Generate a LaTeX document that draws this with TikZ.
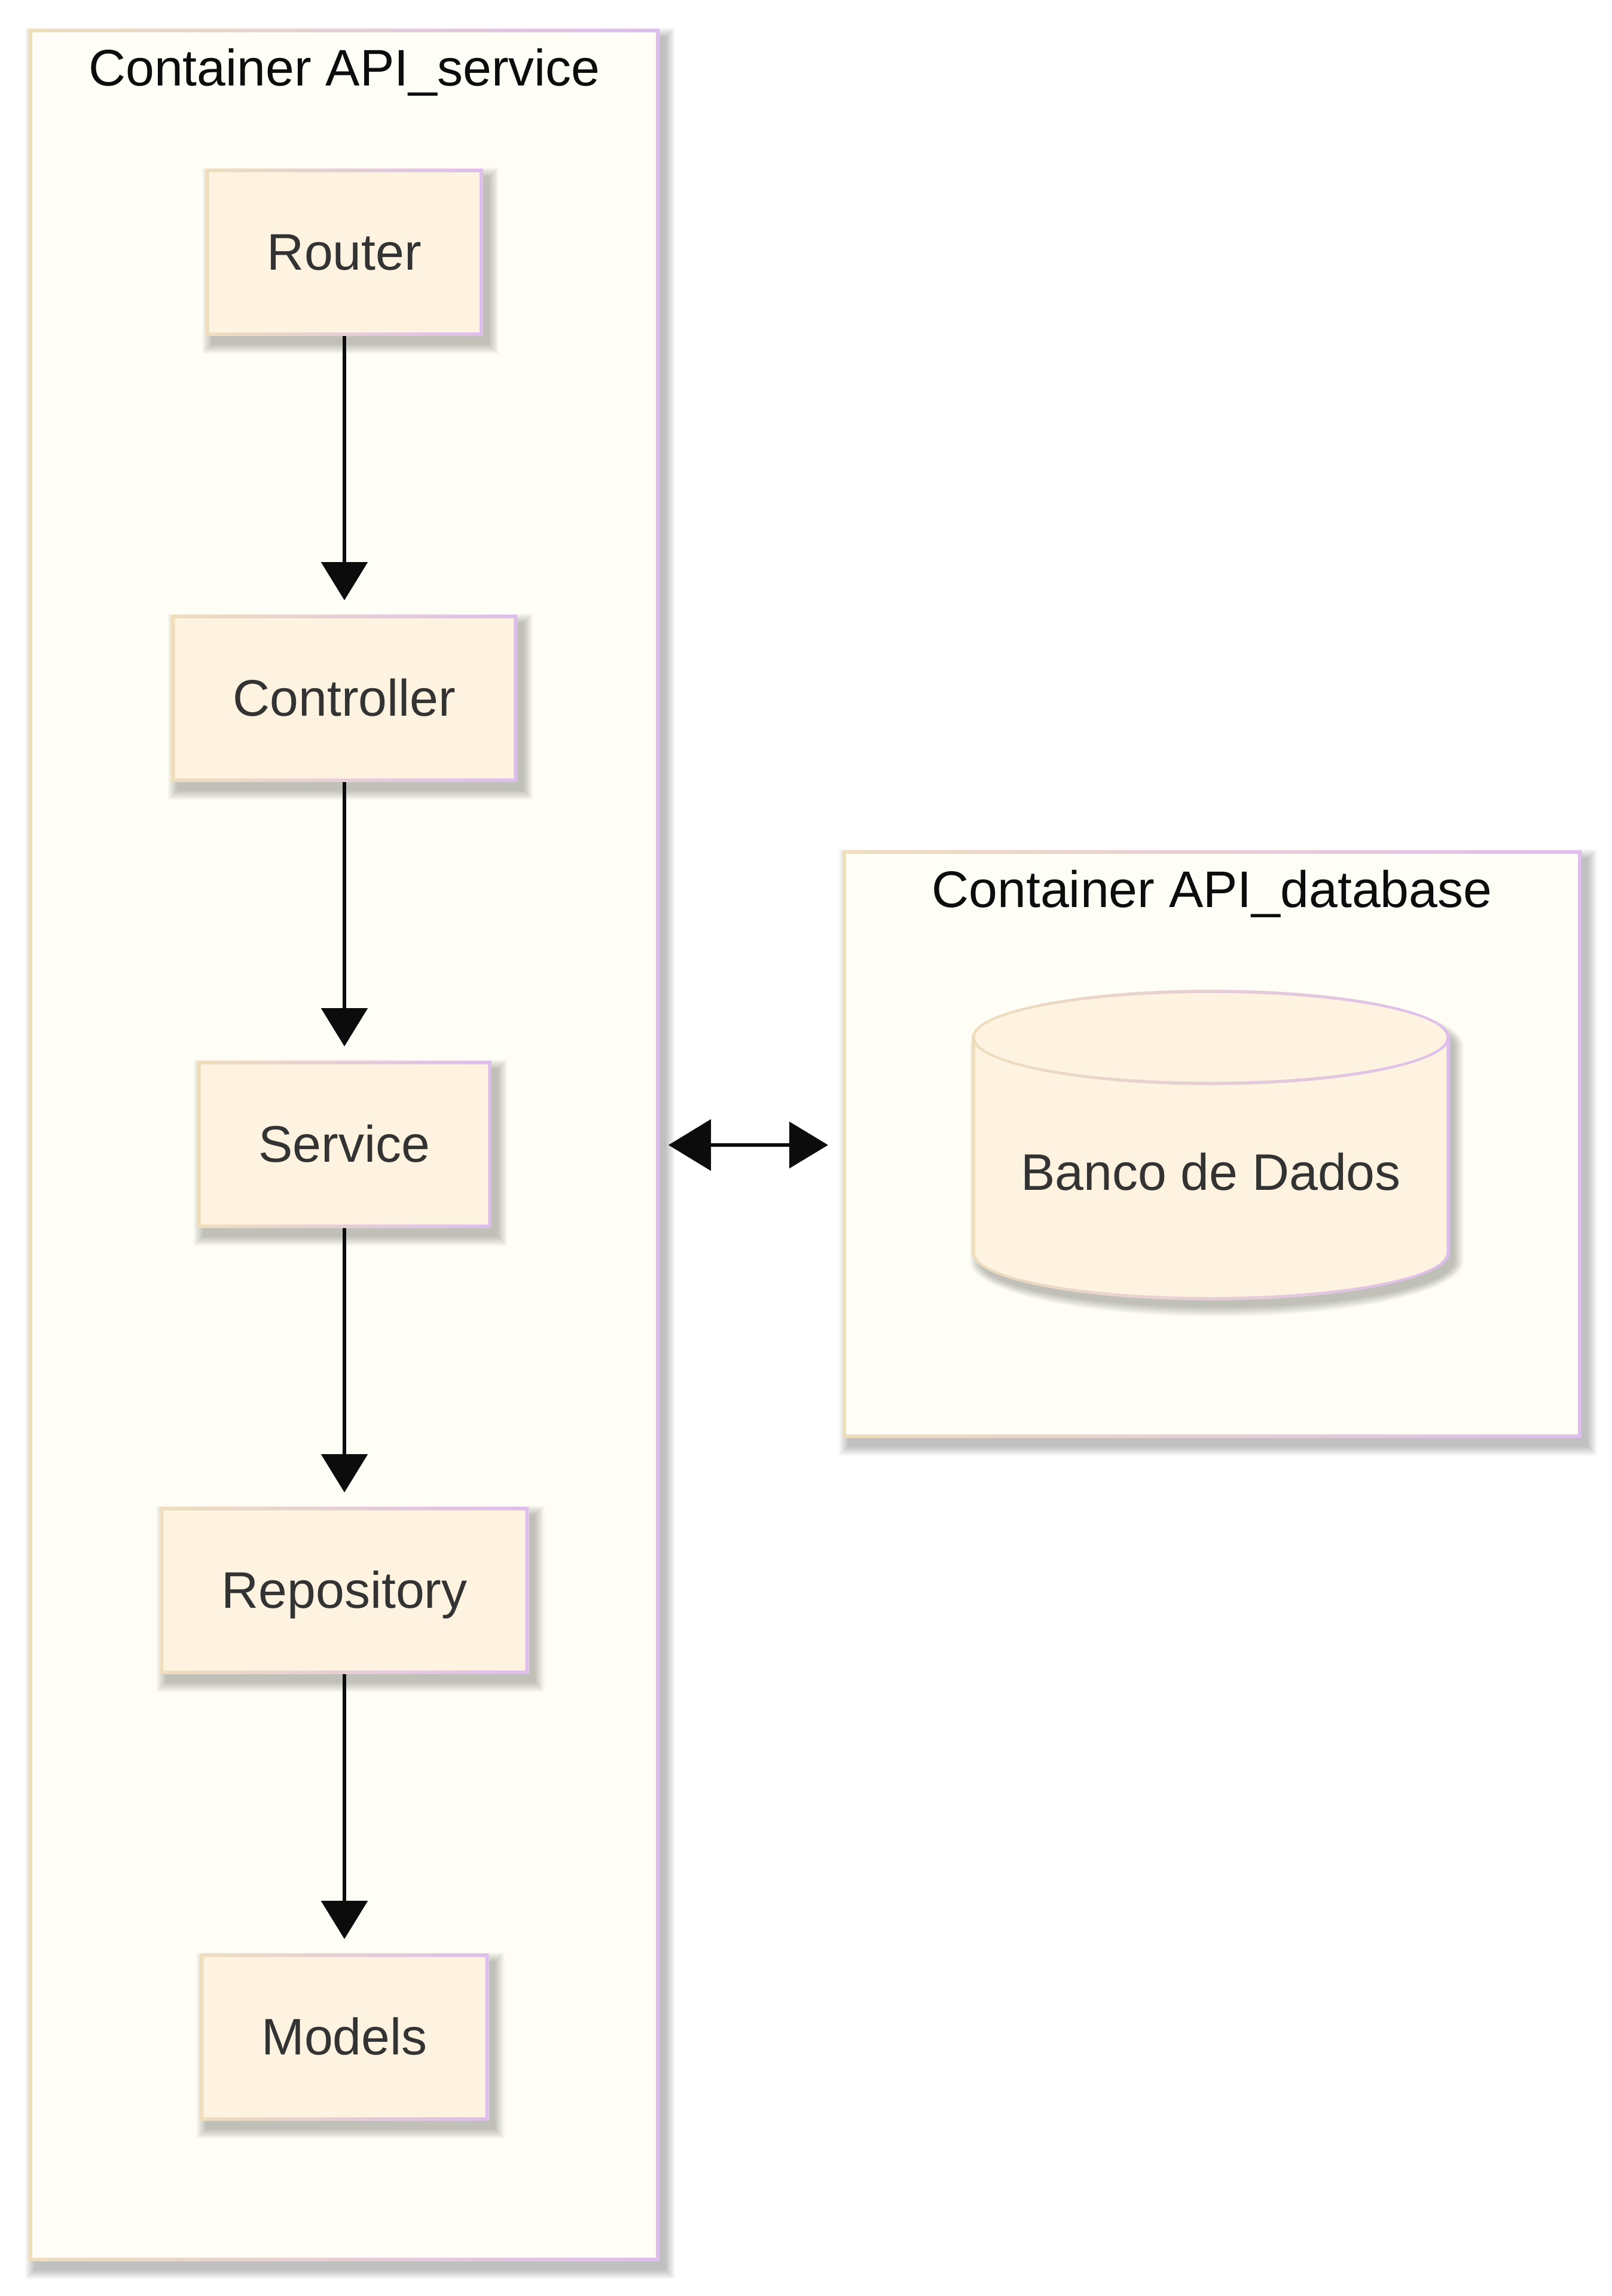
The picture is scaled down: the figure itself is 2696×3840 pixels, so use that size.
\documentclass[tikz,border=0pt]{standalone}
\usepackage{fontspec}
\setmainfont{Liberation Sans}
\usetikzlibrary{arrows.meta,calc}
\definecolor{bordL}{RGB}{238,222,190}
\definecolor{bordR}{RGB}{222,190,236}
\definecolor{boxfill}{RGB}{254,243,224}
\definecolor{contfill}{RGB}{255,254,246}
\definecolor{txt}{RGB}{51,51,51}
\definecolor{ttl}{RGB}{12,12,12}
\definecolor{arr}{RGB}{12,12,12}
\pgfdeclarelayer{cshad}
\pgfdeclarelayer{cont}
\pgfdeclarelayer{cbord}
\pgfdeclarelayer{nshad}
\pgfsetlayers{cshad,cont,cbord,nshad,main}
\newcommand\rectdeco[3]{%
  \begin{pgfonlayer}{#2}
    \foreach \k in {0,...,10}{\fill[black,opacity=0.024] ($(#1.north west)+(10-1.6*\k,14-1.6*\k)$) rectangle ($(#1.south east)+(10+1.6*\k,14+1.6*\k)$);}
  \end{pgfonlayer}
  \begin{pgfonlayer}{#3}
    \shade[left color=bordL,right color=bordR,even odd rule] (#1.north west) rectangle (#1.south east) ($(#1.north west)+(6,6)$) rectangle ($(#1.south east)+(-6,-6)$);
  \end{pgfonlayer}
}
\begin{document}
\begin{tikzpicture}[x=0.5pt,y=-0.5pt,
  comp/.style={rectangle, fill=boxfill, draw=none, outer sep=0pt, inner xsep=51.5pt, inner ysep=0pt,
    minimum height=140pt, text height=29pt, text depth=0pt, font=\fontsize{43}{50}\selectfont, text=txt},
  cont/.style={rectangle, fill=contfill, draw=none, outer sep=0pt, inner sep=0pt},
  ttlstyle/.style={font=\fontsize{43}{50}\selectfont, text=ttl, anchor=base, inner sep=0pt},
  flow/.style={draw=arr, line width=3pt, -{Triangle[length=32pt,width=38.5pt]}, shorten >=12pt},
  both/.style={draw=arr, line width=3pt, {Triangle[length=35.5pt,width=42.5pt]}-{Triangle[length=32.5pt,width=38.5pt]}, shorten <=7.5pt, shorten >=12pt},
]
\useasboundingbox (0,0) rectangle (2696,3840);
\begin{pgfonlayer}{cshad}
  \fill[white] (0,0) rectangle (2696,3840);
\end{pgfonlayer}

% containers
\begin{pgfonlayer}{cont}
  \node[cont, minimum width=527.5pt, minimum height=1867pt] (svc) at (575.5,1915) {};
  \node[cont, minimum width=618pt, minimum height=491.5pt] (dbc) at (2027,1913.5) {};
\end{pgfonlayer}
\rectdeco{svc}{cshad}{cbord}
\rectdeco{dbc}{cshad}{cbord}

\node[ttlstyle] (t1) at (576,143) {Container API\_service};
\node[ttlstyle] (t2) at (2027,1517) {Container API\_database};

% components
\node[comp] (R) at (576,422) {Router};
\rectdeco{R}{nshad}{main}
\node[comp] (C) at (576,1168) {Controller};
\rectdeco{C}{nshad}{main}
\node[comp] (S) at (576,1914) {Service};
\rectdeco{S}{nshad}{main}
\node[comp] (P) at (576,2660) {Repository};
\rectdeco{P}{nshad}{main}
\node[comp] (M) at (576,3407) {Models};
\rectdeco{M}{nshad}{main}

% database cylinder
\begin{pgfonlayer}{nshad}
  \foreach \k in {0,...,10}{
    \fill[black,opacity=0.024] ({1628+10-1.6*\k},1749) arc[start angle=180,end angle=0,x radius={198.5pt+0.8*\k pt},y radius={38.5pt+0.8*\k pt}]
      -- ({2422+10+1.6*\k},2109) arc[start angle=0,end angle=-180,x radius={198.5pt+0.8*\k pt},y radius={38.5pt+0.8*\k pt}] -- cycle;
  }
\end{pgfonlayer}
\fill[boxfill] (1628,1735) arc[start angle=180,end angle=0,x radius=198.5pt,y radius=38.5pt]
  -- (2422,2095) arc[start angle=0,end angle=-180,x radius=198.5pt,y radius=38.5pt] -- cycle;
\shade[left color=bordL,right color=bordR,even odd rule]
  (1625.25,1735) arc[start angle=180,end angle=0,x radius=199.875pt,y radius=39.875pt]
  -- (2424.75,2095) arc[start angle=0,end angle=-180,x radius=199.875pt,y radius=39.875pt] -- cycle
  (1630.75,1735) arc[start angle=180,end angle=0,x radius=197.125pt,y radius=37.125pt]
  -- (2419.25,2095) arc[start angle=0,end angle=-180,x radius=197.125pt,y radius=37.125pt] -- cycle;
\shade[left color=bordL,right color=bordR]
  (1625.25,1735) arc[start angle=180,end angle=360,x radius=199.875pt,y radius=39.875pt]
  -- (2419.25,1735) arc[start angle=360,end angle=180,x radius=197.125pt,y radius=37.125pt] -- cycle;
\node[inner sep=0pt, text height=29pt, text depth=0pt, font=\fontsize{43}{50}\selectfont, text=txt] (db) at (2025,1961) {Banco de Dados};

% connectors
\draw[flow] (R) -- (C);
\draw[flow] (C) -- (S);
\draw[flow] (S) -- (P);
\draw[flow] (P) -- (M);
\draw[both] (svc.east) -- (svc.east -| dbc.west);
\end{tikzpicture}
\end{document}
